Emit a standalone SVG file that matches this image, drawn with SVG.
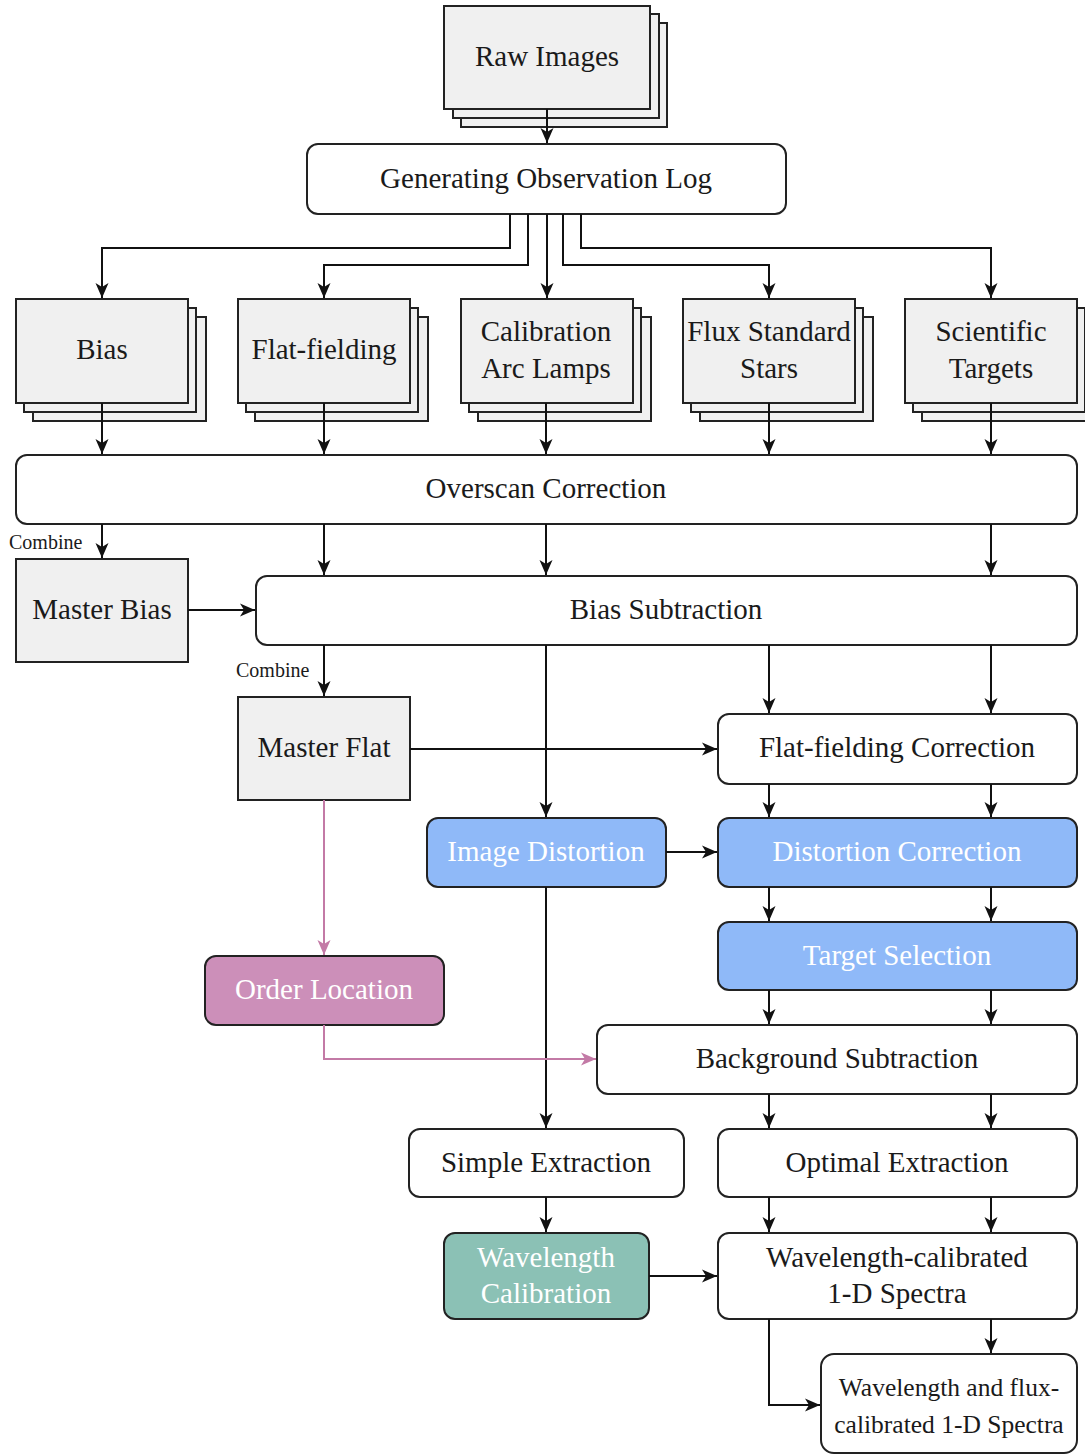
<svg xmlns="http://www.w3.org/2000/svg" width="1085" height="1455" viewBox="0 0 1085 1455">
<style>
text{font-family:"Liberation Serif","Times New Roman",serif;font-size:29px;fill:#1a1a1a;text-anchor:middle;dominant-baseline:central}
.w{fill:#ffffff}
.sm{font-size:20px;text-anchor:start}
.fs{font-size:25.5px}
.g{fill:#f0f0f0;stroke:#222;stroke-width:2}
.r{fill:#ffffff;stroke:#222;stroke-width:2}
.b{fill:#8fb9f8;stroke:#222;stroke-width:2}
.p{fill:#cc8fb9;stroke:#222;stroke-width:2}
.t{fill:#8bc1b5;stroke:#222;stroke-width:2}
.c{fill:none;stroke:#111;stroke-width:2}
.cp{fill:none;stroke:#c37aa6;stroke-width:2}
</style>
<defs>
<marker id="a" markerUnits="userSpaceOnUse" markerWidth="16" markerHeight="14" refX="15" refY="7" orient="auto"><path d="M0,0.5 L15,7 L0,13.5 L4,7 z" fill="#111"/></marker>
<marker id="ap" markerUnits="userSpaceOnUse" markerWidth="16" markerHeight="14" refX="15" refY="7" orient="auto"><path d="M0,0.5 L15,7 L0,13.5 L4,7 z" fill="#c37aa6"/></marker>
</defs>
<rect width="1085" height="1455" fill="#ffffff"/>
<g id="raw-images">
<rect class="g" x="461" y="23" width="206" height="104"/>
<rect class="g" x="453" y="14" width="206" height="104"/>
<rect class="g" x="444" y="6" width="206" height="103"/>
<text x="547" y="56">Raw Images</text>
</g>
<g id="obs-log">
<rect class="r" x="307" y="144" width="479" height="70" rx="11"/>
<text x="546" y="178">Generating Observation Log</text>
</g>
<g id="bias">
<rect class="g" x="33" y="317" width="173" height="104"/>
<rect class="g" x="24" y="308" width="172" height="104"/>
<rect class="g" x="16" y="299" width="172" height="104"/>
<text x="102" y="349">Bias</text>
</g>
<g id="flat-fielding">
<rect class="g" x="255" y="317" width="173" height="104"/>
<rect class="g" x="246" y="308" width="172" height="104"/>
<rect class="g" x="238" y="299" width="172" height="104"/>
<text x="324" y="349">Flat-fielding</text>
</g>
<g id="arc-lamps">
<rect class="g" x="478" y="317" width="173" height="104"/>
<rect class="g" x="469" y="308" width="172" height="104"/>
<rect class="g" x="461" y="299" width="172" height="104"/>
<text x="546" y="331">Calibration</text>
<text x="546" y="368">Arc Lamps</text>
</g>
<g id="flux-std">
<rect class="g" x="700" y="317" width="173" height="104"/>
<rect class="g" x="691" y="308" width="172" height="104"/>
<rect class="g" x="683" y="299" width="172" height="104"/>
<text x="769" y="331">Flux Standard</text>
<text x="769" y="368">Stars</text>
</g>
<g id="sci-targets">
<rect class="g" x="922" y="317" width="173" height="104"/>
<rect class="g" x="913" y="308" width="172" height="104"/>
<rect class="g" x="905" y="299" width="172" height="104"/>
<text x="991" y="331">Scientific</text>
<text x="991" y="368">Targets</text>
</g>
<g id="overscan">
<rect class="r" x="16" y="455" width="1061" height="69" rx="11"/>
<text x="546" y="488">Overscan Correction</text>
</g>
<g id="master-bias">
<rect class="g" x="16" y="559" width="172" height="103"/>
<text x="102" y="609">Master Bias</text>
</g>
<g id="bias-sub">
<rect class="r" x="256" y="576" width="821" height="69" rx="11"/>
<text x="666" y="609">Bias Subtraction</text>
</g>
<g id="master-flat">
<rect class="g" x="238" y="697" width="172" height="103"/>
<text x="324" y="747">Master Flat</text>
</g>
<g id="flat-corr">
<rect class="r" x="718" y="714" width="359" height="70" rx="11"/>
<text x="897" y="747">Flat-fielding Correction</text>
</g>
<g id="image-distortion">
<rect class="b" x="427" y="818" width="239" height="69" rx="11"/>
<text class="w" x="546" y="851">Image Distortion</text>
</g>
<g id="distortion-corr">
<rect class="b" x="718" y="818" width="359" height="69" rx="11"/>
<text class="w" x="897" y="851">Distortion Correction</text>
</g>
<g id="target-sel">
<rect class="b" x="718" y="922" width="359" height="68" rx="11"/>
<text class="w" x="897" y="955">Target Selection</text>
</g>
<g id="order-loc">
<rect class="p" x="205" y="956" width="239" height="69" rx="11"/>
<text class="w" x="324" y="989">Order Location</text>
</g>
<g id="bg-sub">
<rect class="r" x="597" y="1025" width="480" height="69" rx="11"/>
<text x="837" y="1058">Background Subtraction</text>
</g>
<g id="simple-ext">
<rect class="r" x="409" y="1129" width="275" height="68" rx="11"/>
<text x="546" y="1162">Simple Extraction</text>
</g>
<g id="optimal-ext">
<rect class="r" x="718" y="1129" width="359" height="68" rx="11"/>
<text x="897" y="1162">Optimal Extraction</text>
</g>
<g id="wave-cal">
<rect class="t" x="444" y="1233" width="205" height="86" rx="11"/>
<text class="w" x="546" y="1257">Wavelength</text>
<text class="w" x="546" y="1293">Calibration</text>
</g>
<g id="wave-spectra">
<rect class="r" x="718" y="1233" width="359" height="86" rx="11"/>
<text x="897" y="1257">Wavelength-calibrated</text>
<text x="897" y="1293">1-D Spectra</text>
</g>
<g id="flux-spectra">
<rect class="r" x="821" y="1354" width="256" height="99" rx="13"/>
<text class="fs" x="949" y="1387">Wavelength and flux-</text>
<text class="fs" x="949" y="1424">calibrated 1-D Spectra</text>
</g>
<g id="labels">
<text class="sm" x="9" y="542">Combine</text>
<text class="sm" x="236" y="670">Combine</text>
</g>
<g id="connectors">
<path class="c" d="M547,109 V143" marker-end="url(#a)"/>
<path class="c" d="M510,214 V248 H102 V298" marker-end="url(#a)"/>
<path class="c" d="M528,214 V265 H324 V298" marker-end="url(#a)"/>
<path class="c" d="M547,214 V298" marker-end="url(#a)"/>
<path class="c" d="M563,214 V265 H769 V298" marker-end="url(#a)"/>
<path class="c" d="M581,214 V248 H991 V298" marker-end="url(#a)"/>
<path class="c" d="M102,403 V454" marker-end="url(#a)"/>
<path class="c" d="M324,403 V454" marker-end="url(#a)"/>
<path class="c" d="M546,403 V454" marker-end="url(#a)"/>
<path class="c" d="M769,403 V454" marker-end="url(#a)"/>
<path class="c" d="M991,403 V454" marker-end="url(#a)"/>
<path class="c" d="M102,524 V558" marker-end="url(#a)"/>
<path class="c" d="M324,524 V575" marker-end="url(#a)"/>
<path class="c" d="M546,524 V575" marker-end="url(#a)"/>
<path class="c" d="M991,524 V575" marker-end="url(#a)"/>
<path class="c" d="M188,610 H255" marker-end="url(#a)"/>
<path class="c" d="M324,645 V696" marker-end="url(#a)"/>
<path class="c" d="M769,645 V713" marker-end="url(#a)"/>
<path class="c" d="M991,645 V713" marker-end="url(#a)"/>
<path class="c" d="M410,749 L717,749" marker-end="url(#a)"/>
<path class="c" d="M546,645 V817" marker-end="url(#a)"/>
<path class="c" d="M769,784 V817" marker-end="url(#a)"/>
<path class="c" d="M991,784 V817" marker-end="url(#a)"/>
<path class="c" d="M666,852 H717" marker-end="url(#a)"/>
<path class="c" d="M769,887 V921" marker-end="url(#a)"/>
<path class="c" d="M991,887 V921" marker-end="url(#a)"/>
<path class="c" d="M769,990 V1024" marker-end="url(#a)"/>
<path class="c" d="M991,990 V1024" marker-end="url(#a)"/>
<path class="c" d="M546,887 V1128" marker-end="url(#a)"/>
<path class="c" d="M769,1094 V1128" marker-end="url(#a)"/>
<path class="c" d="M991,1094 V1128" marker-end="url(#a)"/>
<path class="c" d="M546,1197 V1232" marker-end="url(#a)"/>
<path class="c" d="M769,1197 V1232" marker-end="url(#a)"/>
<path class="c" d="M991,1197 V1232" marker-end="url(#a)"/>
<path class="c" d="M649,1276 H717" marker-end="url(#a)"/>
<path class="c" d="M991,1319 V1353" marker-end="url(#a)"/>
<path class="c" d="M769,1319 V1405 H820" marker-end="url(#a)"/>
<path class="cp" d="M324,800 V955" marker-end="url(#ap)"/>
<path class="cp" d="M324,1025 V1059 H596" marker-end="url(#ap)"/>
</g>
</svg>
